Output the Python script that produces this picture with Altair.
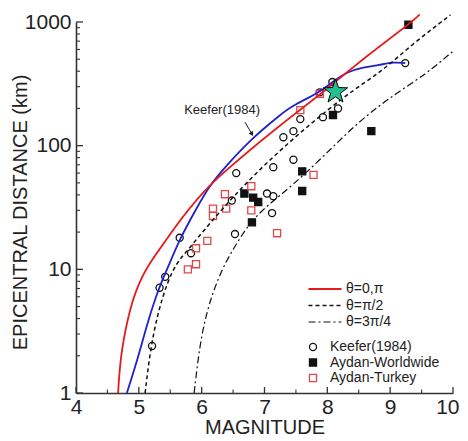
import math
import altair as alt
import pandas as pd

F = "Liberation Sans"

# ---- theoretical curves (magnitude, epicentral distance km) ----
red_m = [4.67, 4.70, 4.78, 4.91, 5.10, 5.37, 5.55, 5.82, 6.13, 6.40, 6.90, 7.40, 7.93, 8.60, 9.29, 9.47]
red_d = [1, 1.75, 3.2, 6, 10, 15.5, 21, 32, 48, 64, 105, 168, 270, 520, 950, 1150]

dash_m = [5.10, 5.18, 5.30, 5.45, 5.60, 5.78, 6.00, 6.50, 7.23, 8.32, 8.84, 9.37, 9.96]
dash_d = [1, 2.2, 4.4, 7.8, 11.3, 14.3, 19.7, 39, 92, 266, 386, 675, 1140]

dd_m = [5.88, 5.97, 6.09, 6.21, 6.37, 6.56, 6.77, 7.05, 7.41, 7.93, 8.47, 9.00, 9.59, 9.99]
dd_d = [1, 2.5, 4.7, 7.2, 11.2, 16.3, 24, 33, 46, 81, 152, 247, 385, 575]

# Keefer (1984) curve
blue_m = [4.81, 4.99, 5.15, 5.32, 5.45, 5.66, 5.90, 6.13, 6.37, 6.80, 7.25, 7.41, 7.88, 8.08, 8.31, 8.52, 8.84, 9.05, 9.24]
blue_d = [1, 1.95, 3.9, 7.1, 10, 18, 30, 48, 67, 115, 177, 206, 270, 327, 394, 425, 450, 475, 465]

# ---- observations ----
keefer_m = [5.21, 5.33, 5.42, 5.65, 5.83, 6.48, 6.53, 6.55, 7.04, 7.14, 7.12, 7.14, 7.30, 7.46, 7.46, 7.57, 7.88, 7.93, 8.08, 8.17, 9.24]
keefer_d = [2.4, 7.1, 8.7, 18, 13.5, 36, 19.3, 60, 41, 39, 28.5, 67, 117, 131, 77, 164, 270, 170, 327, 200, 465]

aw_m = [6.68, 6.82, 6.90, 6.80, 7.60, 7.60, 8.09, 8.70, 9.29]
aw_d = [41, 38, 35, 24, 62, 43, 177, 131, 950]

at_m = [5.78, 5.91, 5.91, 6.09, 6.18, 6.18, 6.37, 6.39, 6.79, 6.79, 7.20, 7.78, 7.57, 7.88]
at_d = [10, 11, 14.8, 17, 27, 31, 40.5, 31, 47, 30, 19.6, 58, 194, 262]

star_m = [8.13]
star_d = [273]

note_m = [6.325]
note_d = [194]
arrow_m = [6.69, 6.80]
arrow_d = [155, 124]

curve_names = ["θ=0,π", "θ=π/2", "θ=3π/4"]
src_names = ["Keefer(1984)", "Aydan-Worldwide", "Aydan-Turkey"]

x_major = [4, 5, 6, 7, 8, 9, 10]
x_minor = [4.5, 5.5, 6.5, 7.5, 8.5, 9.5]
y_major = [1, 10, 100, 1000]
y_minor = [2, 3, 4, 5, 6, 7, 8, 9, 20, 30, 40, 50, 60, 70, 80, 90, 200, 300, 400, 500, 600, 700, 800, 900]

# ---- tables ----
theory = pd.concat([
    pd.DataFrame({"M": red_m, "D": red_d, "curve": curve_names[0]}),
    pd.DataFrame({"M": dash_m, "D": dash_d, "curve": curve_names[1]}),
    pd.DataFrame({"M": dd_m, "D": dd_d, "curve": curve_names[2]}),
])
blue = pd.DataFrame({"M": blue_m, "D": blue_d})
obs = pd.concat([
    pd.DataFrame({"M": keefer_m, "D": keefer_d, "src": src_names[0]}),
    pd.DataFrame({"M": aw_m, "D": aw_d, "src": src_names[1]}),
    pd.DataFrame({"M": at_m, "D": at_d, "src": src_names[2]}),
])

xs = alt.Scale(domain=[4, 10], nice=False, zero=False)
ys = alt.Scale(type="log", domain=[1, 1000], nice=False)

xaxis = alt.Axis(values=x_major, title="MAGNITUDE", ticks=False, grid=False,
                 labelFlush=False, labelOverlap=False, labelFontSize=21, labelFont=F,
                 labelColor="#222", labelPadding=3,
                 labelAlign={"condition": {"test": "datum.value == 10", "value": "right"}, "value": "center"},
                 labelOffset={"condition": {"test": "datum.value == 10", "value": 6}, "value": 0},
                 domainColor="#333", domainWidth=1.6,
                 titleFontSize=20, titleFont=F, titleFontWeight="normal", titleColor="#222",
                 titleY=34, titleBaseline="middle")
yaxis = alt.Axis(values=y_major, format="d", title="EPICENTRAL DISTANCE (km)", ticks=False,
                 grid=False, labelFlush=False, labelOverlap=False, labelFontSize=21,
                 labelFont=F, labelColor="#222", labelPadding=5, domainColor="#333",
                 domainWidth=1.6, titleFontSize=20, titleFont=F, titleFontWeight="normal",
                 titleColor="#222", titleX=-56, titleY=190, titleAngle=270,
                 titleBaseline="middle", titleAlign="center")

X = alt.X("M:Q", scale=xs, axis=xaxis)
Y = alt.Y("D:Q", scale=ys, axis=yaxis)

line_legend = alt.Legend(title=None, orient="none", legendX=242, legendY=260,
                         symbolType="M-3,0L3,0", symbolSize=121, symbolStrokeWidth=1.4,
                         labelFontSize=14, labelFont=F, labelColor="#222", rowPadding=2.5,
                         padding=0, labelOffset=14)
pt_legend = alt.Legend(title=None, orient="none", legendX=230, legendY=318, symbolSize=50,
                       symbolStrokeWidth=1.3, labelFontSize=14, labelFont=F, labelColor="#222",
                       rowPadding=1.5, padding=0, labelOffset=10)

pts = alt.Chart(obs).mark_point(strokeWidth=1.3, opacity=1, size=50).encode(
    x=X, y=Y,
    shape=alt.Shape("src:N", scale=alt.Scale(domain=src_names, range=["circle", "square", "square"]), legend=pt_legend),
    stroke=alt.Stroke("src:N", scale=alt.Scale(domain=src_names, range=["#111111", "#111111", "#e04848"]), legend=pt_legend),
    fill=alt.Fill("src:N", scale=alt.Scale(domain=src_names, range=["transparent", "#111111", "transparent"]), legend=pt_legend),
)

blue_line = alt.Chart(blue).mark_line(interpolate="basis", color="#1f1fcc", strokeWidth=1.8).encode(x=X, y=Y)

lines = alt.Chart(theory).mark_line(interpolate="basis").encode(
    x=X, y=Y,
    color=alt.Color("curve:N", scale=alt.Scale(domain=curve_names, range=["#e41a1c", "#111111", "#111111"]), legend=line_legend),
    strokeDash=alt.StrokeDash("curve:N", scale=alt.Scale(domain=curve_names, range=[[1, 0], [4, 3], [7, 3, 2, 3]]), legend=line_legend),
    strokeWidth=alt.StrokeWidth("curve:N", scale=alt.Scale(domain=curve_names, range=[1.8, 1.2, 1.2]), legend=None),
)

# 5-point star glyph
sp = []
for i in range(10):
    r = 1.0 if i % 2 == 0 else 0.4
    a = -math.pi / 2 + i * math.pi / 5
    sp.append(f"{r*math.cos(a):.3f},{r*math.sin(a):.3f}")
star_path = "M" + " L".join(sp) + " Z"

star = alt.Chart(pd.DataFrame({"M": star_m, "D": star_d})).mark_point(
    shape=star_path, size=650, filled=True, fill="#22c08e", stroke="black", strokeWidth=1, opacity=1
).encode(x=X, y=Y)

note = alt.Chart(pd.DataFrame({"M": note_m, "D": note_d})).mark_text(
    text="Keefer(1984)", font=F, fontSize=13, color="#222"
).encode(x=X, y=Y)

arrow = alt.Chart(pd.DataFrame({"M": arrow_m, "D": arrow_d})).mark_line(color="#222", strokeWidth=1).encode(x=X, y=Y)
head = alt.Chart(pd.DataFrame({"M": arrow_m[1:], "D": arrow_d[1:]})).mark_point(
    shape="triangle-down", angle=330, size=28, filled=True, color="#222", opacity=1
).encode(x=X, y=Y)

# inward ticks
H = 371
xt1 = alt.Chart(pd.DataFrame({"M": x_major})).mark_rule(color="#333", strokeWidth=1.3).encode(
    x=X, y=alt.value(H), y2=alt.value(H - 6))
xt2 = alt.Chart(pd.DataFrame({"M": x_minor})).mark_rule(color="#333", strokeWidth=1.1).encode(
    x=X, y=alt.value(H), y2=alt.value(H - 3.5))
yt1 = alt.Chart(pd.DataFrame({"D": y_major})).mark_rule(color="#333", strokeWidth=1.3).encode(
    y=Y, x=alt.value(0), x2=alt.value(7))
yt2 = alt.Chart(pd.DataFrame({"D": y_minor})).mark_rule(color="#333", strokeWidth=1.1).encode(
    y=Y, x=alt.value(0), x2=alt.value(4))

chart = alt.layer(pts, blue_line, lines, star, note, arrow, head, xt1, xt2, yt1, yt2).properties(
    width=377, height=H,
    autosize=alt.AutoSizeParams(type="none"),
    padding={"left": 68, "top": 14, "right": 7, "bottom": 44},
    background="white",
).configure_view(strokeWidth=0)

chart.save("out.html", embed_options={"renderer": "svg", "actions": False})
